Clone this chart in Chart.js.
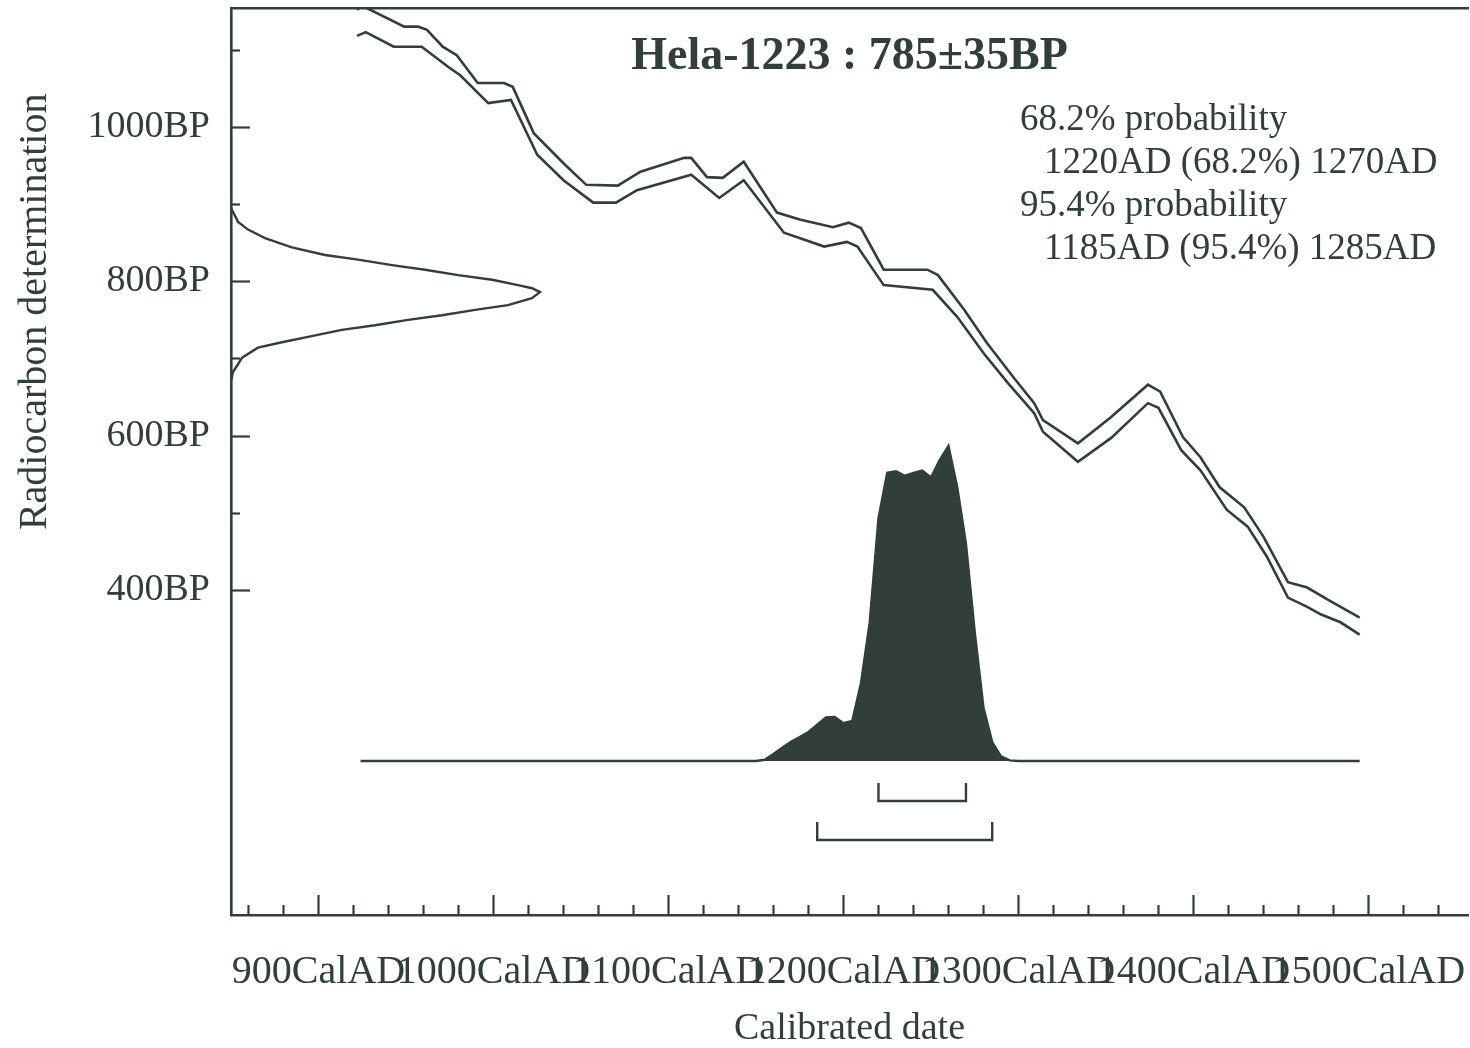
<!DOCTYPE html>
<html>
<head>
<meta charset="utf-8">
<script src="https://cdn.jsdelivr.net/npm/chart.js@4.4.1/dist/chart.umd.min.js"></script>
<style>
  html, body { margin: 0; padding: 0; background: #ffffff; }
  #wrap { width: 1470px; height: 1048px; position: relative; }
  #c { display: block; width: 1470px; height: 1048px; }
</style>
</head>
<body>
<div id="wrap"><canvas id="c" width="1470" height="1048"></canvas></div>
<script>
// ---------------- DATA ----------------
const chartTitle = 'Hela-1223 : 785±35BP';
const xAxisTitle = 'Calibrated date';
const yAxisTitle = 'Radiocarbon determination';
const infoHeadLines = ['68.2% probability', '95.4% probability'];
const infoRangeLines = ['1220AD (68.2%) 1270AD', '1185AD (95.4%) 1285AD'];

const xMajorTicks = [900, 1000, 1100, 1200, 1300, 1400, 1500];
const xMajorLabels = ['900CalAD', '1000CalAD', '1100CalAD', '1200CalAD', '1300CalAD', '1400CalAD', '1500CalAD'];
const xMinorTicks = [860, 880, 920, 940, 960, 980, 1020, 1040, 1060, 1080, 1120, 1140, 1160, 1180,
                     1220, 1240, 1260, 1280, 1320, 1340, 1360, 1380, 1420, 1440, 1460, 1480, 1520, 1540];
const yMajorTicks = [400, 600, 800, 1000];
const yMajorLabels = ['400BP', '600BP', '800BP', '1000BP'];
const yMinorTicks = [500, 700, 900, 1100];

// calibration curve (upper / lower 1-sigma lines), cal AD vs BP
const curveUpperYears = [922, 925, 949, 957, 962, 971, 979, 991, 1006, 1011, 1023, 1040, 1053, 1071, 1084, 1109, 1113, 1122, 1131, 1143,
                         1162, 1175, 1194, 1203, 1210, 1223, 1248, 1254, 1269, 1282, 1297, 1309, 1314, 1334, 1353, 1374, 1381, 1394,
                         1404, 1415, 1429, 1440, 1454, 1465, 1477, 1495];
const curveUpperBP    = [1152, 1157, 1130, 1130, 1126, 1104, 1093, 1057, 1057, 1052, 992, 953, 925, 924, 942, 960, 960, 935, 934, 955,
                         889, 880, 870, 876, 869, 815, 815, 808, 763, 720, 676, 642, 620, 590, 624, 666, 657, 598,
                         572, 533, 507, 469, 410, 403, 387, 364];
const curveLowerYears = [922, 927, 943, 959, 974, 981, 997, 1010, 1025, 1040, 1057, 1070, 1082, 1113, 1129, 1143, 1166, 1189, 1202, 1208,
                         1223, 1251, 1265, 1280, 1294, 1309, 1314, 1334, 1353, 1374, 1380, 1393, 1404, 1419, 1431, 1442, 1454,
                         1465, 1473, 1484, 1495];
const curveLowerBP    = [1118, 1123, 1104, 1104, 1078, 1067, 1031, 1035, 964, 931, 902, 902, 918, 938, 908, 931, 863, 845, 851, 845,
                         795, 789, 754, 707, 668, 629, 605, 566, 597, 642, 636, 581, 555, 504, 482, 443, 390,
                         378, 368, 358, 342];

// radiocarbon determination distribution (relative probability vs BP)
const rcBP   = [895, 877, 867, 856, 844, 834, 828, 821, 815, 808, 802, 795, 791, 786, 778, 769, 763, 756, 750, 743, 737, 728, 721, 714, 701, 682, 670];
const rcProb = [0, 0.023, 0.055, 0.11, 0.197, 0.304, 0.411, 0.521, 0.628, 0.735, 0.845, 0.929, 0.974, 1.0, 0.974, 0.896, 0.79, 0.683, 0.573, 0.466, 0.359, 0.249, 0.165, 0.087, 0.036, 0.006, 0];

// calibrated date distribution (relative probability vs cal AD)
const calYears = [924, 1150, 1155, 1160, 1165, 1170, 1175, 1180, 1185, 1190, 1195, 1200, 1205, 1210, 1215, 1220, 1225, 1230, 1235,
                  1240, 1245, 1250, 1255, 1260, 1265, 1270, 1275, 1280, 1285, 1290, 1295, 1300, 1495];
const calProb  = [0, 0, 0.004, 0.022, 0.042, 0.061, 0.076, 0.092, 0.115, 0.138, 0.14, 0.12, 0.127, 0.247, 0.44, 0.77, 0.915, 0.92, 0.905,
                  0.915, 0.922, 0.9, 0.955, 1.0, 0.87, 0.69, 0.41, 0.17, 0.06, 0.015, 0.002, 0, 0];

// calibrated ranges
const range68 = [1220, 1270];
const range95 = [1185, 1285];

// ---------------- STYLE ----------------
const INK = '#323e3c';
const FONT = '"Liberation Serif", "Times New Roman", Times, serif';

const zip = (xs, ys) => xs.map((x, i) => ({ x: x, y: ys[i] }));
const bracket = (r, top, bottom) => [{ x: r[0], y: top }, { x: r[0], y: bottom }, { x: r[1], y: bottom }, { x: r[1], y: top }];

const lineDs = (data, extra) => Object.assign({
  data: data, showLine: true, pointRadius: 0, borderColor: INK, backgroundColor: INK,
  borderWidth: 2.6, tension: 0, fill: false, xAxisID: 'x', yAxisID: 'y'
}, extra || {});

const allXTicks = xMajorTicks.concat(xMinorTicks).sort((a, b) => a - b);
const allYTicks = yMajorTicks.concat(yMinorTicks).sort((a, b) => a - b);

const noPad = s => { s.paddingTop = 0; s.paddingBottom = 0; s.paddingLeft = 0; s.paddingRight = 0; };

const decor = {
  id: 'decor',
  afterDraw(chart) {
    const { ctx, chartArea: a, scales } = chart;
    ctx.save();
    ctx.strokeStyle = INK;
    ctx.lineWidth = 2.2;
    ctx.lineCap = 'butt';
    // inward tick marks
    scales.y.ticks.forEach(t => {
      const py = Math.round(scales.y.getPixelForValue(t.value)) + 0.5;
      const len = yMajorTicks.includes(t.value) ? 19 : 9;
      ctx.beginPath(); ctx.moveTo(a.left, py); ctx.lineTo(a.left + len, py); ctx.stroke();
    });
    scales.x.ticks.forEach(t => {
      const px = Math.round(scales.x.getPixelForValue(t.value)) + 0.5;
      const len = xMajorTicks.includes(t.value) ? 20 : 10;
      ctx.beginPath(); ctx.moveTo(px, a.bottom); ctx.lineTo(px, a.bottom - len); ctx.stroke();
    });
    // texts
    ctx.fillStyle = INK;
    ctx.textBaseline = 'middle';
    ctx.textAlign = 'center';
    ctx.font = 'bold 46px ' + FONT;
    ctx.fillText(chartTitle, (a.left + a.right) / 2, a.top + 49);
    ctx.textAlign = 'left';
    ctx.font = '37px ' + FONT;
    ctx.fillText(infoHeadLines[0], a.left + 789, a.top + 112);
    ctx.fillText(infoRangeLines[0], a.left + 813, a.top + 155);
    ctx.fillText(infoHeadLines[1], a.left + 789, a.top + 198);
    ctx.fillText(infoRangeLines[1], a.left + 813, a.top + 241);
    // y axis title, centred on the BP tick range
    const yTop = scales.y.getPixelForValue(yMinorTicks[yMinorTicks.length - 1]);
    const yBot = scales.y.getPixelForValue(yMajorTicks[0]);
    ctx.translate(35, (yTop + yBot) / 2 - 8);
    ctx.rotate(-Math.PI / 2);
    ctx.textAlign = 'center';
    ctx.font = '40px ' + FONT;
    ctx.fillText(yAxisTitle, 0, 0);
    ctx.restore();
  }
};

new Chart(document.getElementById('c'), {
  type: 'scatter',
  data: {
    datasets: [
      lineDs(zip(curveUpperYears, curveUpperBP)),
      lineDs(zip(curveLowerYears, curveLowerBP)),
      lineDs(zip(rcProb, rcBP), { xAxisID: 'xProb', borderWidth: 2.4 }),
      lineDs(zip(calYears, calProb), { yAxisID: 'yProb', fill: 'origin', borderWidth: 2.4 }),
      lineDs(bracket(range68, -0.07, -0.127), { yAxisID: 'yProb', borderWidth: 2.4 }),
      lineDs(bracket(range95, -0.194, -0.251), { yAxisID: 'yProb', borderWidth: 2.4 })
    ]
  },
  options: {
    responsive: false,
    maintainAspectRatio: false,
    animation: false,
    devicePixelRatio: 1,
    layout: { padding: { left: 0, top: 8, right: 2, bottom: 0 } },
    plugins: { legend: { display: false }, tooltip: { enabled: false }, title: { display: false } },
    scales: {
      x: {
        type: 'linear', position: 'bottom', min: 850, max: 1556.9,
        afterBuildTicks: s => { s.ticks = allXTicks.map(v => ({ value: v })); },
        afterFit: s => { s.height = 133; noPad(s); },
        grid: { display: false },
        border: { display: true, color: INK, width: 2.6 },
        ticks: {
          autoSkip: false, maxRotation: 0, minRotation: 0, padding: 25, color: INK,
          font: { family: FONT, size: 40 },
          callback: v => { const i = xMajorTicks.indexOf(v); return i >= 0 ? xMajorLabels[i] : ''; }
        },
        title: { display: true, text: xAxisTitle, color: INK, font: { family: FONT, size: 38, lineHeight: 1.0 }, padding: { top: 0, bottom: 0 } }
      },
      xTop: {
        type: 'linear', position: 'top', min: 850, max: 1556.9,
        afterFit: s => { s.height = 0; noPad(s); },
        grid: { display: false },
        ticks: { display: false },
        border: { display: true, color: INK, width: 2.6 }
      },
      y: {
        type: 'linear', position: 'left', min: -21.4, max: 1154.2,
        afterBuildTicks: s => { s.ticks = allYTicks.map(v => ({ value: v })); },
        afterFit: s => { s.width = 231; noPad(s); },
        grid: { display: false },
        border: { display: true, color: INK, width: 2.6 },
        ticks: {
          autoSkip: false, padding: 13, color: INK,
          font: { family: FONT, size: 38 },
          callback: v => { const i = yMajorTicks.indexOf(v); return i >= 0 ? yMajorLabels[i] : ''; }
        }
      },
      xProb: { type: 'linear', display: false, min: 0, max: 4.003 },
      yProb: { type: 'linear', display: false, min: -0.4889, max: 2.3905 }
    }
  },
  plugins: [decor]
});
</script>
</body>
</html>
